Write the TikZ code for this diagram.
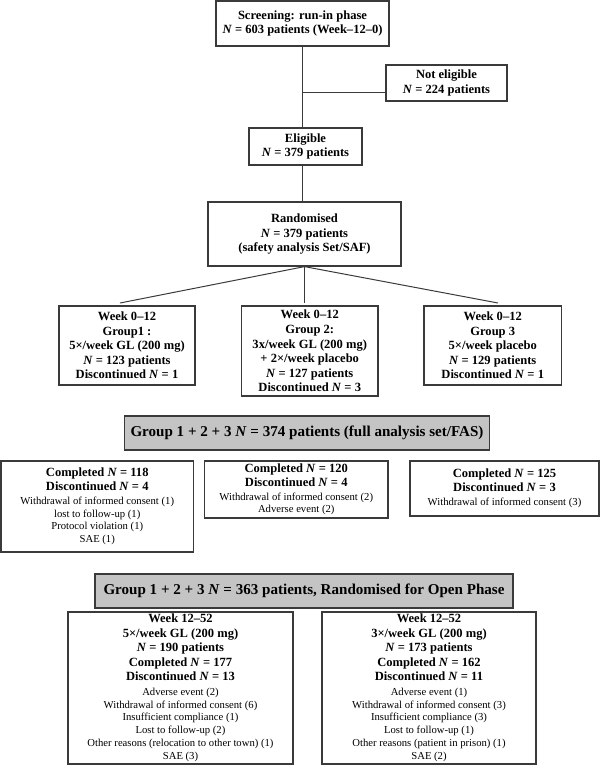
\documentclass[tikz,border=0pt]{standalone}
\usepackage{fontspec}
\setmainfont{Liberation Serif}
\definecolor{linecol}{HTML}{3A3A3A}
\definecolor{grayfill}{HTML}{C4C4C4}
\newcommand\bl[1]{{\fontsize{9.4}{9.4}\selectfont\bfseries #1}}
\newcommand\NN{\textit{N}}
\begin{document}
\begin{tikzpicture}[x=0.75pt,y=-0.75pt,
  box/.style={draw=linecol, line width=0.9pt, fill=white, inner sep=0pt, align=center},
  boldbox/.style={box, font=\fontsize{9.4}{10.9}\selectfont\bfseries},
  mixbox/.style={box, font=\fontsize{8}{9.4}\selectfont},
  openbox/.style={box, font=\fontsize{8}{9.7}\selectfont},
  graybox/.style={box, fill=grayfill, font=\fontsize{11.3}{13}\selectfont\bfseries},
  conn/.style={draw=linecol, line width=0.75pt}]
\useasboundingbox (0,0) rectangle (600,765);

\node[boldbox, minimum width=129.75pt, minimum height=33.75pt] (scr) at (302.5,23.5)
  {Screening: run-in phase\\ \NN{} = 603 patients (Week–12–0)};
\node[boldbox, minimum width=90.75pt, minimum height=27pt] (ne) at (446.5,83)
  {Not eligible\\ \NN{} = 224 patients};
\node[boldbox, minimum width=84.75pt, minimum height=27.75pt] (elig) at (305.5,146.5)
  {Eligible\\ \NN{} = 379 patients};
\node[boldbox, minimum width=144.75pt, minimum height=48pt] (rand) at (304.5,234)
  {Randomised\\ \NN{} = 379 patients\\ (safety analysis Set/SAF)};

\node[boldbox, minimum width=102pt, minimum height=59.25pt] (g1) at (127,345.5)
  {Week 0–12\\ Group1 :\\ 5×/week GL (200 mg)\\ \NN{} = 123 patients\\ Discontinued \NN{} = 1};
\node[boldbox, minimum width=102.4pt, minimum height=67.5pt] (g2) at (309.75,351)
  {Week 0–12\\ Group 2:\\ 3x/week GL (200 mg)\\ + 2×/week placebo\\ \NN{} = 127 patients\\ Discontinued \NN{} = 3};
\node[boldbox, minimum width=103.1pt, minimum height=59.25pt] (g3) at (492.75,345.5)
  {Week 0–12\\ Group 3\\ 5×/week placebo\\ \NN{} = 129 patients\\ Discontinued \NN{} = 1};

\node[graybox, minimum width=273.75pt, minimum height=25.5pt] (fas) at (307,433)
  {Group 1 + 2 + 3 \NN{} = 374 patients (full analysis set/FAS)};

\node[mixbox, minimum width=144.4pt, minimum height=68.25pt] (c1) at (97.25,506.5)
  {\bl{Completed \NN{} = 118}\\[1.1pt] \bl{Discontinued \NN{} = 4}\\[1.1pt]
   Withdrawal of informed consent (1)\\ lost to follow-up (1)\\ Protocol violation (1)\\ SAE (1)};
\node[mixbox, minimum width=137.6pt, minimum height=42.75pt] (c2) at (296.25,489.5)
  {\bl{Completed \NN{} = 120}\\[1.1pt] \bl{Discontinued \NN{} = 4}\\[1.1pt]
   Withdrawal of informed consent (2)\\ Adverse event (2)};
\node[mixbox, minimum width=141.75pt, minimum height=41.25pt] (c3) at (504.5,488.5)
  {\bl{Completed \NN{} = 125}\\[1.1pt] \bl{Discontinued \NN{} = 3}\\[1.1pt]
   Withdrawal of informed consent (3)};

\node[graybox, minimum width=313.5pt, minimum height=25.5pt] (open) at (304,591)
  {Group 1 + 2 + 3 \NN{} = 363 patients, Randomised for Open Phase};

\node[openbox, minimum width=168.75pt, minimum height=114pt] (o1) at (180.5,688)
  {\bl{Week 12–52}\\[1.2pt] \bl{5×/week GL (200 mg)}\\[1.2pt] \bl{\NN{} = 190 patients}\\[1.2pt]
   \bl{Completed \NN{} = 177}\\[1.2pt] \bl{Discontinued \NN{} = 13}\\[1.0pt]
   Adverse event (2)\\ Withdrawal of informed consent (6)\\ Insufficient compliance (1)\\
   Lost to follow-up (2)\\ Other reasons (relocation to other town) (1)\\ SAE (3)};
\node[openbox, minimum width=160.5pt, minimum height=114pt] (o2) at (429,688)
  {\bl{Week 12–52}\\[1.2pt] \bl{3×/week GL (200 mg)}\\[1.2pt] \bl{\NN{} = 173 patients}\\[1.2pt]
   \bl{Completed \NN{} = 162}\\[1.2pt] \bl{Discontinued \NN{} = 11}\\[1.0pt]
   Adverse event (1)\\ Withdrawal of informed consent (3)\\ Insufficient compliance (3)\\
   Lost to follow-up (1)\\ Other reasons (patient in prison) (1)\\ SAE (2)};

% connectors
\coordinate (brn) at (302.5,92);
\coordinate (b1) at (120,303);
\coordinate (b2) at (304.5,303);
\coordinate (b3) at (498,303);
\path[conn] (scr.south) -- (scr.south |- elig.north);
\path[conn] (brn) -- (brn -| ne.west);
\path[conn] (scr.south |- elig.south) -- (scr.south |- rand.north);
\path[conn] (rand.south) -- (b1);
\path[conn] (rand.south) -- (b2);
\path[conn] (rand.south) -- (b3);
\end{tikzpicture}
\end{document}
